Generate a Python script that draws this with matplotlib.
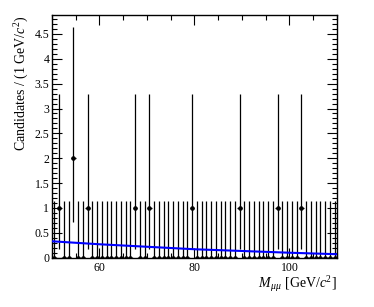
import matplotlib
matplotlib.use("Agg")
import matplotlib.pyplot as plt
from matplotlib.ticker import MultipleLocator, FixedLocator, FuncFormatter
import numpy as np

plt.rcParams['font.family'] = ['Liberation Serif', 'DejaVu Serif']
plt.rcParams['mathtext.fontset'] = 'custom'
plt.rcParams['mathtext.rm'] = 'Liberation Serif'
plt.rcParams['mathtext.it'] = 'Liberation Serif:italic'

# Data
bin_lo, bin_hi, n_bins = 50, 110, 60
nonzero_centers = [51.5, 54.5, 57.5, 67.5, 70.5, 79.5, 89.5, 97.5, 102.5]
nonzero_counts = [1, 2, 1, 1, 1, 1, 1, 1, 1]
# Poisson (Garwood) error bars by count
poisson_err = {0: (0.0, 1.148), 1: (0.827, 2.300), 2: (1.291, 2.638)}
# Fit curve
fit_x = [50, 60, 70, 80, 90, 100, 110]
fit_y = [0.33, 0.27, 0.22, 0.17, 0.135, 0.10, 0.07]

edges = np.linspace(bin_lo, bin_hi, n_bins + 1)
centers = 0.5 * (edges[:-1] + edges[1:])
counts = np.zeros(n_bins)
for c, n in zip(nonzero_centers, nonzero_counts):
    counts[np.argmin(np.abs(centers - c))] = n
lo = np.array([poisson_err[int(n)][0] for n in counts])
hi = np.array([poisson_err[int(n)][1] for n in counts])

fig = plt.figure(figsize=(3.74, 3.07), dpi=100)
ax = fig.add_axes([0.139, 0.1606, 0.762, 0.7904])

ax.errorbar(centers, counts, yerr=[lo, hi], xerr=0.5, fmt='o', color='black',
            ms=2.3, elinewidth=0.9, capsize=0, zorder=3)
ax.plot(fit_x, fit_y, color='#0000ff', lw=1.5, zorder=4)

ax.set_xlim(bin_lo, bin_hi)
ax.set_ylim(0, 4.88)
ax.xaxis.set_major_locator(FixedLocator([60, 80, 100]))
ax.xaxis.set_minor_locator(MultipleLocator(5))
ax.yaxis.set_major_locator(MultipleLocator(0.5))
ax.yaxis.set_minor_locator(MultipleLocator(0.1))
ax.yaxis.set_major_formatter(FuncFormatter(lambda v, p: '%g' % round(v, 2)))
ax.tick_params(which='both', direction='in', top=True, right=True, labelsize=8.5,
               width=0.8, colors='black')
ax.tick_params(which='major', length=7)
ax.tick_params(which='minor', length=3.5)
ax.tick_params(axis='x', pad=3)
ax.tick_params(axis='y', pad=2)
for s in ax.spines.values():
    s.set_linewidth(1.0)

ax.set_ylabel('Candidates / (1 GeV/$c^2$)', fontsize=10, ha='right', y=1.0)
ax.yaxis.set_label_coords(-0.075, 1.0)
ax.set_xlabel(r'$M_{\,\mu\mu}$ [GeV/$c^2$]', fontsize=10, ha='right', x=1.0, labelpad=0)

fig.savefig('out.png', dpi=100)
